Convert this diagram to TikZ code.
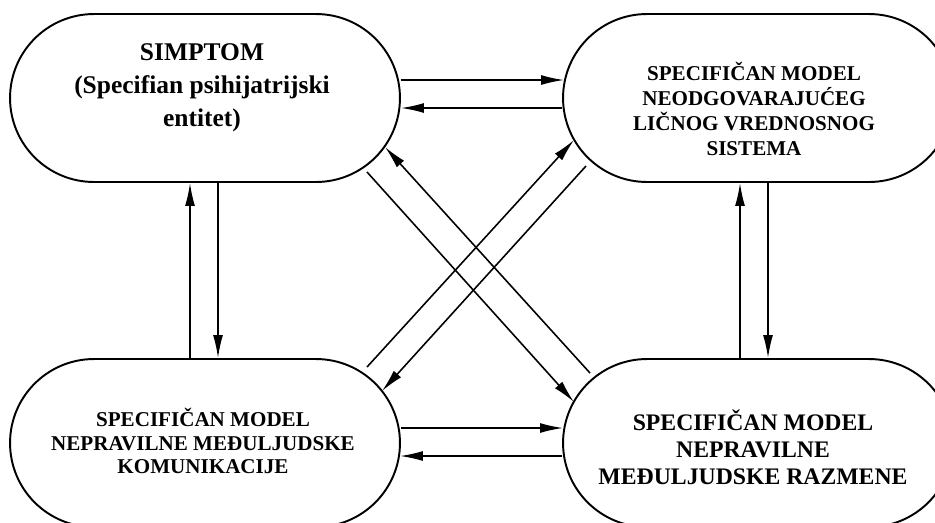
\documentclass[tikz,border=0pt]{standalone}
\usepackage{fontspec}
\setmainfont{Liberation Serif}
\usetikzlibrary{arrows.meta,shapes.misc,calc}

\begin{document}
\begin{tikzpicture}[x=0.02cm,y=-0.02cm,>={Latex[length=13pt,width=5.6pt]},
  box/.style={rounded rectangle,draw,line width=1.1pt,minimum width=7.8cm,minimum height=3.36cm,inner sep=0pt},
  lbl/.style={align=center,inner sep=0pt},
  link/.style={line width=0.9pt}]
  \useasboundingbox (0,0) rectangle (935,522);
  \clip (0,0) rectangle (935,522);
  % the four models
  \node[box] (sim)  at (205,98)  {};
  \node[box] (vred) at (758,98)  {};
  \node[box] (kom)  at (205,443) {};
  \node[box] (razm) at (758,443) {};
  \node[lbl,font=\fontsize{14.5}{18.7}\selectfont\bfseries] (simT) at ($(sim)+(-3,-10)$)
    {SIMPTOM\\(Specifian psihijatrijski\\entitet)};
  \node[lbl,font=\fontsize{12}{14.3}\selectfont\bfseries] (vredT) at ($(vred)+(-4,11)$)
    {SPECIFIČAN MODEL\\NEODGOVARAJUĆEG\\LIČNOG VREDNOSNOG\\SISTEMA};
  \node[lbl,font=\fontsize{12}{13.6}\selectfont\bfseries] (komT) at ($(kom)+(-2,-2)$)
    {SPECIFIČAN MODEL\\NEPRAVILNE MEĐULJUDSKE\\KOMUNIKACIJE};
  \node[lbl,font=\fontsize{13.5}{15.3}\selectfont\bfseries] (razmT) at ($(razm)+(-5,4)$)
    {SPECIFIČAN MODEL\\NEPRAVILNE\\MEĐULJUDSKE RAZMENE};
  % horizontal pairs
  \draw[link,->] ($(sim.east)+(0,-18)$) -- ($(vred.west)+(2,-18)$);
  \draw[link,->] ($(vred.west)+(0,10)$) -- ($(sim.east)+(0,10)$);
  \draw[link,->] ($(kom.east)+(0,-15)$) -- ($(razm.west)+(1,-15)$);
  \draw[link,->] ($(razm.west)+(0,13)$) -- ($(kom.east)+(-1,13)$);
  % vertical pairs
  \draw[link,->] ($(kom.north)+(-15,0)$) -- ($(sim.south)+(-15,0)$);
  \draw[link,->] ($(sim.south)+(13,0)$) -- ($(kom.north)+(13,0)$);
  \draw[link,->] ($(razm.north)+(-18,0)$) -- ($(vred.south)+(-18,0)$);
  \draw[link,->] ($(vred.south)+(10,0)$) -- ($(razm.north)+(10,0)$);
  % diagonals
  \draw[link,->] ($(sim)+(162,74)$) -- ($(razm)+(-184,-41)$);
  \draw[link,->] ($(razm)+(-168,-70)$) -- ($(sim)+(180,49)$);
  \draw[link,->] ($(kom)+(162,-76)$) -- ($(vred)+(-184,42)$);
  \draw[link,->] ($(vred)+(-172,68)$) -- ($(kom)+(177,-52)$);
\end{tikzpicture}
\end{document}
